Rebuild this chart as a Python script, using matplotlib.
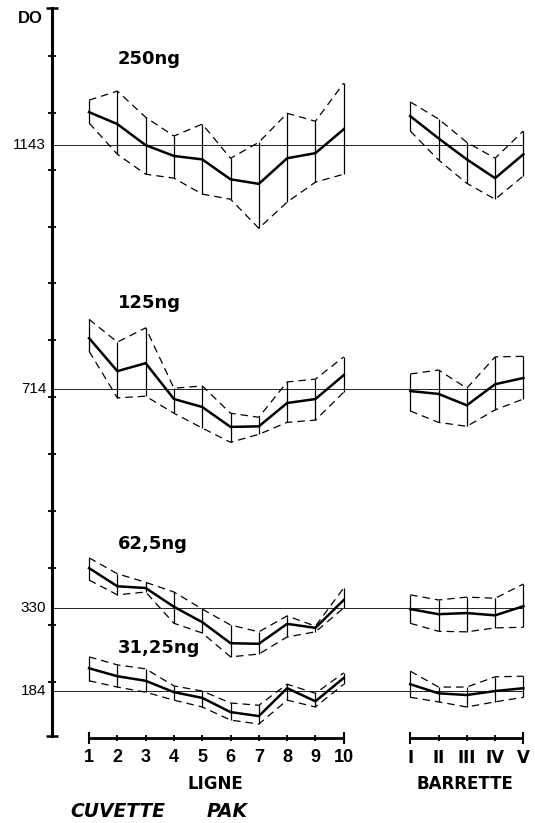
"""DO profile per dilution: cuvette rows (LIGNE 1-10) vs strips (BARRETTE I-V).

Solid line = mean, dashed = upper/lower envelope, thin verticals join the
envelope at each well. Thin horizontals mark the reference DO per dilution.
"""
import matplotlib
matplotlib.use("Agg")
import matplotlib.pyplot as plt
import numpy as np

plt.rcParams["font.family"] = ["Liberation Sans", "DejaVu Sans"]
WIDE = ["DejaVu Sans"]

LIGNE_LABELS = ["1", "2", "3", "4", "5", "6", "7", "8", "9", "10"]
BARRETTE_LABELS = ["I", "II", "III", "IV", "V"]
LIGNE_POS = np.arange(1, 11)
BARRETTE_POS = np.arange(5) + 12.35

DOSES = ["250ng", "125ng", "62,5ng", "31,25ng"]
REF_DO = [1143, 714, 330, 184]

# LIGNE 1..10
LIGNE_MEAN = {
    "250ng": [1201, 1180, 1143, 1124, 1118, 1083, 1075, 1120, 1129, 1171],
    "125ng": [804, 746, 760, 697, 683, 648, 649, 690, 697, 739],
    "62,5ng": [400, 368, 365, 332, 305, 268, 267, 302, 295, 344],
    "31,25ng": [224, 210, 202, 182, 172, 147, 140, 189, 166, 207],
}
LIGNE_UP = {
    "250ng": [1222, 1238, 1192, 1159, 1180, 1120, 1148, 1199, 1185, 1252],
    "125ng": [837, 797, 822, 716, 720, 672, 665, 727, 732, 771],
    "62,5ng": [418, 390, 375, 358, 328, 300, 288, 316, 298, 365],
    "31,25ng": [244, 230, 223, 193, 184, 163, 159, 196, 180, 216],
}
LIGNE_LOW = {
    "250ng": [1182, 1127, 1092, 1085, 1057, 1048, 997, 1043, 1078, 1092],
    "125ng": [781, 699, 702, 672, 646, 621, 635, 656, 660, 709],
    "62,5ng": [379, 353, 358, 303, 286, 244, 249, 279, 288, 330],
    "31,25ng": [202, 191, 182, 168, 156, 133, 126, 168, 156, 196],
}

# BARRETTE I..V
BARR_MEAN = {
    "250ng": [1194, 1155, 1118, 1085, 1127],
    "125ng": [711, 706, 686, 723, 734],
    "62,5ng": [328, 319, 321, 317, 333],
    "31,25ng": [196, 180, 177, 184, 189],
}
BARR_UP = {
    "250ng": [1219, 1189, 1148, 1120, 1168],
    "125ng": [741, 748, 716, 771, 772],
    "62,5ng": [353, 344, 349, 347, 372],
    "31,25ng": [219, 191, 191, 209, 210],
}
BARR_LOW = {
    "250ng": [1168, 1117, 1076, 1048, 1089],
    "125ng": [676, 656, 649, 678, 697],
    "62,5ng": [303, 289, 288, 295, 296],
    "31,25ng": [173, 165, 156, 165, 173],
}

Y_TICKS = np.arange(200, 1301, 100)
YLIM = (105, 1384)
XLIM = (-0.31, 16.76)


def draw_band(ax, x, mean, up, low):
    ax.vlines(x, low, up, color="black", linewidth=0.9, zorder=2)
    ax.plot(x, up, color="black", linewidth=0.9, dashes=(6, 4), zorder=2)
    ax.plot(x, low, color="black", linewidth=0.9, dashes=(6, 4), zorder=2)
    ax.plot(x, mean, color="black", linewidth=1.8, solid_joinstyle="miter", zorder=3)


def main():
    fig = plt.figure(figsize=(5.35, 8.23), dpi=100)
    ax = fig.add_axes([0.0972, 0.1057, 0.9028, 0.8846])
    ax.set_xlim(*XLIM)
    ax.set_ylim(*YLIM)

    for sp in ("top", "right", "bottom"):
        ax.spines[sp].set_visible(False)
    ax.spines["left"].set_linewidth(2.2)
    ax.set_xticks([])
    ax.set_yticks(Y_TICKS)
    ax.set_yticklabels([])
    ax.tick_params(axis="y", direction="inout", length=6, width=1.3)
    # serifs at both ends of the DO axis
    ax.plot([XLIM[0]] * 2, YLIM, linestyle="none", marker="_", markersize=9,
            markeredgewidth=1.8, color="black", clip_on=False)

    for ref in REF_DO:
        ax.hlines(ref, XLIM[0], BARRETTE_POS[-1], color="black", linewidth=0.6, zorder=1)
        ax.text(-0.012, ref, str(ref), transform=ax.get_yaxis_transform(),
                ha="right", va="center", fontsize=11)
    ax.text(-0.02, 0.986, "DO", transform=ax.transAxes, ha="right", va="center",
            fontsize=12, fontweight="bold")

    label_y = {"250ng": 1295, "125ng": 866, "62,5ng": 443, "31,25ng": 260}
    for dose in DOSES:
        draw_band(ax, LIGNE_POS, LIGNE_MEAN[dose], LIGNE_UP[dose], LIGNE_LOW[dose])
        draw_band(ax, BARRETTE_POS, BARR_MEAN[dose], BARR_UP[dose], BARR_LOW[dose])
        ax.text(2.02, label_y[dose], dose, ha="left", va="center", family=WIDE,
                fontsize=13, fontweight="bold")

    # segmented x axes
    ybase = YLIM[0] - 3
    groups = ((LIGNE_POS, LIGNE_LABELS, 13, None),
              (BARRETTE_POS, BARRETTE_LABELS, 12, WIDE))
    for pos, labels, fs, fam in groups:
        ax.plot([pos[0], pos[-1]], [ybase, ybase], color="black", linewidth=2.0,
                clip_on=False, solid_capstyle="butt")
        ax.plot(pos, [ybase] * len(pos), linestyle="none", marker="|", markersize=5,
                markeredgewidth=1.3, color="black", clip_on=False)
        ax.plot([pos[0], pos[-1]], [ybase] * 2, linestyle="none", marker="|",
                markersize=9, markeredgewidth=1.5, color="black", clip_on=False)
        for p, lab in zip(pos, labels):
            ax.text(p, -0.030, lab, transform=ax.get_xaxis_transform(), ha="center",
                    va="center", fontsize=fs, fontweight="bold", family=fam)

    xax = ax.get_xaxis_transform()
    ax.text(5.45, -0.066, "LIGNE", transform=xax, ha="center", va="center",
            family=WIDE, fontsize=12, fontweight="bold")
    ax.text(14.3, -0.066, "BARRETTE", transform=xax, ha="center", va="center",
            family=WIDE, fontsize=12, fontweight="bold")
    ax.text(0.33, -0.104, "CUVETTE", transform=xax, ha="left", va="center",
            family=WIDE, fontsize=13.5, fontweight="bold", fontstyle="italic")
    ax.text(5.17, -0.104, "PAK", transform=xax, ha="left", va="center",
            family=WIDE, fontsize=13.5, fontweight="bold", fontstyle="italic")

    fig.savefig("out.png", dpi=100)
    plt.close(fig)


if __name__ == "__main__":
    main()
